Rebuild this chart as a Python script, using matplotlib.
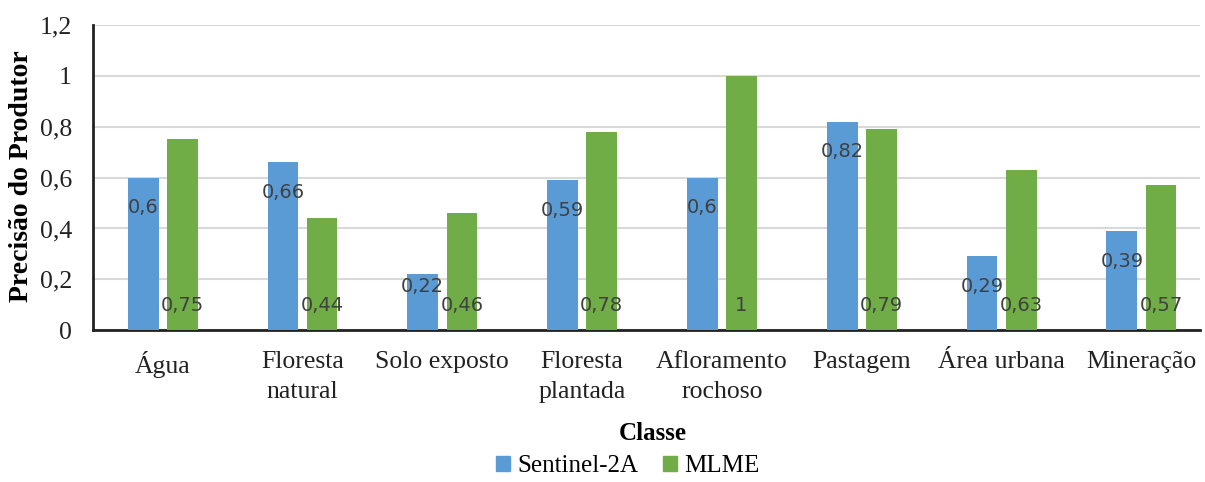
import matplotlib

matplotlib.use("Agg")
import matplotlib.patches as mpatches
import matplotlib.pyplot as plt
import numpy as np

# data
classes = [
    "Água",
    "Floresta\nnatural",
    "Solo exposto",
    "Floresta\nplantada",
    "Afloramento\nrochoso",
    "Pastagem",
    "Área urbana",
    "Mineração",
]
sentinel = [0.60, 0.66, 0.22, 0.59, 0.60, 0.82, 0.29, 0.39]
mlme = [0.75, 0.44, 0.46, 0.78, 1.00, 0.79, 0.63, 0.57]
yticks = [0, 0.2, 0.4, 0.6, 0.8, 1.0, 1.2]
ytick_labels = ["0", "0,2", "0,4", "0,6", "0,8", "1", "1,2"]

BLUE = "#5b9bd5"
GREEN = "#70ad47"
LABEL_COLOR = "#404040"
SERIF = "Liberation Serif"


def fmt(v):
    s = f"{v:.2f}".rstrip("0").rstrip(".")
    return s.replace(".", ",")


fig = plt.figure(figsize=(12.05, 4.82), dpi=100)
ax = fig.add_axes([0.077, 0.315, 0.919, 0.633])

x = np.arange(len(classes))
width = 0.22
off = 0.14

ax.bar(x - off, sentinel, width, color=BLUE, zorder=3)
ax.bar(x + off, mlme, width, color=GREEN, zorder=3)

# Excel-style data labels: blue inside end, green inside base
for xi, v in zip(x, sentinel):
    ax.text(xi - off, max(v - 0.118, 0.17), fmt(v), ha="center", va="center",
            fontsize=14, color=LABEL_COLOR, zorder=4)
for xi, v in zip(x, mlme):
    ax.text(xi + off, 0.098, fmt(v), ha="center", va="center",
            fontsize=14, color=LABEL_COLOR, zorder=4)

ax.set_xlim(-0.5, 7.42)
ax.set_ylim(0, 1.2)
ax.set_yticks(yticks)
ax.set_yticklabels(ytick_labels, fontsize=18.5, family=SERIF, color="#222")
ax.set_xticks(x)
ax.set_xticklabels(classes, fontsize=18.5, family=SERIF, color="#222",
                   linespacing=1.45)
ax.tick_params(axis="both", length=0)
ax.tick_params(axis="y", pad=15)
ax.tick_params(axis="x", pad=15)

ax.grid(axis="y", color="#d9d9d9", linewidth=1.5, zorder=0)
ax.set_axisbelow(True)
for side in ("top", "right"):
    ax.spines[side].set_visible(False)
for side in ("left", "bottom"):
    ax.spines[side].set_linewidth(2)
    ax.spines[side].set_color("#222")

fig.text(0.018, 0.635, "Precisão do Produtor", rotation=90, ha="center",
         va="center", fontsize=20, fontweight="bold", family=SERIF)
fig.text(0.542, 0.0996, "Classe", ha="center", va="center", fontsize=18,
         fontweight="bold", family=SERIF)

handles = [
    mpatches.Patch(color=BLUE, label="Sentinel-2A"),
    mpatches.Patch(color=GREEN, label="MLME"),
]
fig.legend(handles=handles, loc="center", bbox_to_anchor=(0.521, 0.033),
           ncol=2, frameon=False, handlelength=0.55, handleheight=0.55,
           handletextpad=0.3, columnspacing=1.0,
           prop={"family": SERIF, "size": 18})

plt.savefig("out.png", dpi=100)
plt.close(fig)
